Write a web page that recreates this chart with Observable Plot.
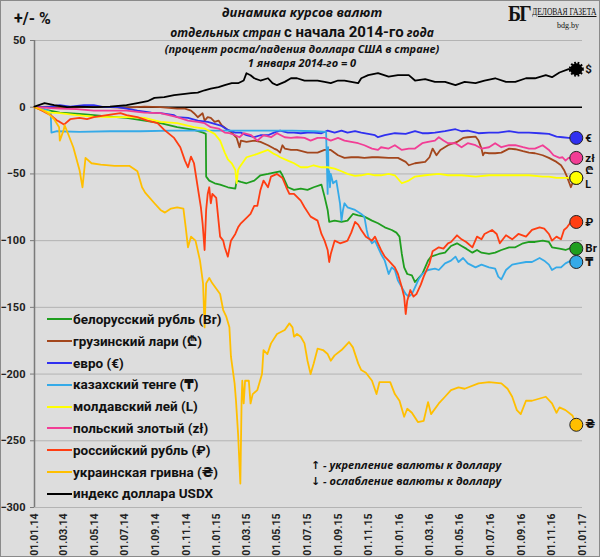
<!DOCTYPE html>
<html><head><meta charset="utf-8">
<script src="https://cdn.jsdelivr.net/npm/d3@7"></script>
<script src="https://cdn.jsdelivr.net/npm/@observablehq/plot@0.6"></script>
<style>
body{margin:0;background:#fff}
#wrap{position:relative;width:600px;height:557px;background:#dddddd;overflow:hidden;font-family:Roboto,"DejaVu Sans","Noto Sans",sans-serif;color:#111}
#wrap svg{position:absolute;left:0;top:0}
.ov{position:absolute;white-space:nowrap}
.tl{position:absolute;left:2px;width:600px;text-align:center;font-family:"Open Sans","DejaVu Sans",sans-serif;font-style:italic;font-weight:700;white-space:nowrap}
.lg{position:absolute;left:47px;font-weight:700;font-size:13.5px;white-space:nowrap;line-height:15px}
.lg span.sw{display:inline-block;width:25px;height:2px;vertical-align:middle;margin-right:1px;position:relative;top:-1px}
.note{position:absolute;left:311px;font-family:"Open Sans","DejaVu Sans",sans-serif;font-style:italic;font-weight:700;font-size:11px;white-space:nowrap;line-height:14px}
#border{position:absolute;left:0;top:0;width:600px;height:557px;box-sizing:border-box;border:1px solid #8a8a8a;pointer-events:none}
</style></head><body><div id="wrap"></div><script>
// x values: months elapsed since 01.01.2014; y values: % change
const belarus = [[0,0],[0.5,-1.5],[1.7,-4],[3,-5],[3.95,-6],[5,-7],[6.1,-8],[7.25,-10],[8.3,-12],[9.4,-15],[10.5,-17],[11.1,-19],[11.28,-20],[11.3,-52],[11.5,-55],[11.85,-57],[12.2,-58],[12.7,-60],[13.2,-61],[13.3,-55],[13.6,-56],[14.0,-57],[14.5,-55],[14.9,-51],[15.4,-50],[15.8,-49],[16.2,-48],[16.35,-51],[16.7,-60],[17.1,-62],[17.55,-61],[18.0,-62],[18.4,-60],[18.9,-58],[19.1,-67],[19.3,-77],[19.4,-86],[19.75,-85],[20.2,-86],[20.6,-85],[20.96,-80],[21.3,-81],[21.7,-82],[22.2,-85],[22.6,-87],[23.05,-90],[23.5,-92],[23.8,-94],[24.0,-97],[24.15,-110],[24.3,-120],[24.5,-125],[24.8,-126],[25.0,-131],[25.25,-128],[25.5,-125],[25.7,-120],[25.9,-115],[26.1,-112],[26.6,-110],[27.0,-109],[27.4,-104],[27.8,-102],[28.1,-104],[28.4,-106],[28.8,-109],[29.1,-107],[29.4,-109],[29.9,-110],[30.3,-109],[30.7,-107],[31.2,-105],[31.6,-105],[32.1,-102],[32.5,-101],[32.9,-101],[33.4,-100],[33.8,-101],[34.0,-105],[34.5,-106],[34.9,-107],[35.35,-105],[35.6,-106]];
const georgia = [[0,0],[1,0.5],[2,-0.5],[3,0],[4,0.5],[5,0],[6,-0.5],[7.25,0.5],[8.3,0],[9.4,-1],[9.9,-1],[10.3,-2.5],[10.5,-4.5],[10.75,-7.5],[11.07,-4.5],[11.2,-10],[11.4,-7.5],[11.6,-8],[11.85,-11],[12.1,-10],[12.3,-13.5],[12.7,-17],[12.95,-19],[13.3,-23],[13.5,-30],[13.6,-25],[14.0,-26],[14.5,-25],[14.9,-26],[15.4,-28.5],[15.8,-31],[16.0,-32],[16.2,-34],[16.35,-28.5],[16.5,-31],[16.9,-32],[17.3,-32],[18.0,-34],[18.65,-34],[19.1,-32],[19.5,-32],[19.97,-36],[20.4,-38],[20.85,-37.5],[21.3,-37.5],[21.7,-38],[22.2,-37.5],[22.6,-37.5],[23.3,-38],[23.9,-38],[24.4,-41],[24.6,-43.5],[25.0,-42],[25.7,-41],[26.0,-37.5],[26.2,-31],[26.45,-36],[26.7,-32],[27.2,-28.5],[27.8,-26],[28.2,-23],[28.5,-22.5],[29.0,-22],[29.2,-25],[29.4,-31],[29.5,-36],[29.6,-34],[29.9,-34.5],[30.3,-34.5],[30.7,-34],[31.2,-31],[31.6,-31.5],[32.1,-33],[32.5,-34],[32.9,-34.5],[33.4,-36],[33.8,-38],[34.3,-41],[34.6,-43.5],[34.8,-47],[35.0,-52],[35.25,-60],[35.35,-57],[35.6,-53]];
const euro = [[0,0],[0.86,0],[1.7,1.5],[2.4,0.5],[3.3,1.5],[3.95,1.5],[4.6,0],[5.5,0],[6.1,-1],[6.8,-2.5],[7.7,-4],[8.3,-4.5],[9.2,-6],[9.4,-7.5],[10.1,-8],[10.75,-10],[11.4,-11],[11.85,-12.5],[12.3,-14],[12.7,-17],[13.2,-19],[13.6,-19],[14.0,-21],[14.5,-22.5],[14.9,-21],[15.4,-21],[15.8,-19],[16.2,-17.5],[16.7,-19],[17.1,-19],[17.55,-19.5],[18.0,-19],[18.4,-19],[18.9,-19.5],[19.3,-17.5],[19.75,-19],[20.2,-17.5],[20.6,-19],[21.1,-18],[21.5,-19],[21.95,-20],[22.4,-21],[22.6,-22.5],[23.05,-21],[23.7,-19.5],[24.4,-20],[25.0,-18],[25.5,-19.5],[25.9,-19.5],[26.35,-19],[27.0,-18],[27.7,-16.5],[28.1,-18],[28.5,-17.5],[29.2,-19.5],[29.9,-19],[30.5,-19],[31.2,-18],[31.8,-19],[32.5,-19],[33.2,-19.5],[33.8,-20],[34.3,-22],[34.7,-22.5],[35.1,-23],[35.6,-23]];
const kazakh = [[0,0],[0.5,-1],[0.86,-2.5],[1.05,-4],[1.1,-19],[1.5,-18],[3,-18.5],[5,-18],[7,-18],[9,-17.5],[11,-17.5],[13,-17.5],[15,-17.5],[17,-17.5],[18.5,-18],[19.2,-18.5],[19.25,-42],[19.3,-65],[19.33,-30],[19.36,-55],[19.4,-48],[19.45,-60],[19.5,-50],[19.65,-57],[19.86,-55],[20.1,-72],[20.2,-85],[20.3,-77],[20.4,-72],[20.6,-75],[21.1,-77],[21.5,-80],[21.7,-82],[21.85,-92],[21.95,-97],[22.2,-102],[22.4,-100],[22.6,-105],[22.8,-110],[23.05,-115],[23.3,-125],[23.5,-120],[23.7,-122],[23.9,-130],[24.15,-135],[24.4,-140],[24.6,-142],[24.8,-140],[25.0,-135],[25.25,-129],[25.5,-125],[25.9,-122],[26.35,-121],[26.6,-122],[27.0,-117],[27.4,-115],[27.7,-112],[27.9,-116],[28.2,-113],[28.5,-117],[29.0,-120],[29.4,-118],[29.9,-120],[30.3,-121],[30.5,-127],[30.7,-129],[31.0,-122],[31.4,-118],[31.8,-117],[32.3,-116],[32.7,-116],[33.2,-113],[33.5,-115],[33.8,-118],[34.0,-122],[34.3,-120],[34.6,-120],[34.9,-117],[35.25,-115],[35.6,-116]];
const moldova = [[0,0],[0.4,-2],[1.05,-4],[1.7,-4.5],[2.8,-6],[3.95,-7],[5.0,-7.5],[6.1,-7.5],[7.25,-8],[8.3,-11],[9.4,-12],[10.5,-15],[11.2,-16],[11.85,-20],[12.2,-25],[12.5,-34],[12.7,-39],[12.95,-42],[13.2,-47],[13.3,-57],[13.4,-47],[13.5,-45],[13.7,-42],[14.0,-37.5],[14.7,-35],[15.4,-32],[15.8,-35],[16.0,-36],[16.2,-37.5],[16.7,-40],[17.1,-42],[17.55,-45],[18.0,-45],[18.4,-43.5],[18.9,-45],[19.3,-45],[19.75,-46],[20.2,-48],[20.6,-50],[21.1,-51.5],[21.5,-51],[21.95,-50],[22.4,-51],[22.8,-51],[23.3,-50],[23.7,-51],[24.15,-57],[24.6,-55],[25.0,-52],[25.7,-51],[26.6,-50],[27.2,-51],[28.1,-51],[29.0,-52],[29.9,-51],[30.7,-51],[31.6,-51],[32.5,-51],[33.4,-52],[33.8,-52],[34.3,-53],[34.7,-53],[35.1,-53],[35.6,-53]];
const poland = [[0,0],[1.7,-1],[2.8,-1.5],[3.95,-2.5],[5.0,-2.5],[6.1,-2.5],[7.25,-4],[8.3,-4.5],[9.4,-7.5],[10.1,-10],[10.75,-11],[11.2,-12],[11.6,-15],[12.1,-16],[12.5,-19],[12.8,-19.5],[13.2,-21],[13.5,-22.5],[13.8,-19.5],[14.3,-21],[14.7,-25],[15.1,-21],[15.6,-22.5],[16.0,-19.5],[16.5,-22.5],[16.9,-23],[17.3,-22.5],[17.8,-23],[18.2,-25],[18.65,-23],[19.1,-23],[19.5,-25],[19.97,-23],[20.4,-25],[20.85,-26],[21.3,-27],[21.7,-28.5],[22.2,-31],[22.6,-32],[22.8,-30],[23.3,-31],[23.7,-28.5],[24.15,-32],[24.6,-31],[25.0,-31],[25.5,-27],[25.9,-26],[26.35,-25],[26.6,-22.5],[26.9,-25],[27.2,-27],[27.7,-27],[28.1,-30],[28.5,-27],[29.0,-28.5],[29.4,-31],[29.9,-30],[30.3,-27],[30.7,-30],[31.2,-28.5],[31.6,-28.5],[32.1,-30],[32.5,-31],[32.9,-31],[33.4,-28.5],[33.8,-32],[34.1,-36],[34.5,-38],[34.7,-37.5],[34.9,-40],[35.1,-38],[35.6,-38]];
const russia = [[0,0],[0.4,-2],[1.05,-6],[1.5,-10],[1.7,-11],[2.0,-13],[2.4,-9],[3.0,-8],[3.5,-9],[3.95,-7.5],[4.8,-6],[5.7,-4.5],[6.1,-6],[6.8,-7.5],[7.45,-10],[8.1,-12],[8.55,-17],[9.2,-23],[9.6,-30],[9.9,-40],[10.1,-45],[10.3,-37],[10.5,-42],[10.75,-60],[10.96,-75],[11.07,-87],[11.2,-107],[11.3,-77],[11.4,-65],[11.5,-60],[11.6,-72],[11.7,-65],[11.95,-68],[12.2,-97],[12.4,-100],[12.5,-105],[12.7,-112],[12.9,-100],[13.2,-95],[13.4,-90],[13.6,-87],[13.8,-85],[14.0,-83],[14.26,-80],[14.5,-74],[14.7,-74],[14.9,-62],[15.1,-55],[15.4,-60],[15.6,-52],[16.0,-50],[16.35,-53],[16.6,-60],[16.8,-65],[17.1,-65],[17.55,-70],[17.8,-75],[18.2,-82],[18.65,-85],[18.9,-95],[19.1,-100],[19.3,-107],[19.4,-116],[19.5,-110],[19.75,-100],[20.1,-102],[20.4,-101],[20.6,-100],[20.85,-94],[21.1,-86],[21.3,-88],[21.5,-92],[21.8,-97],[22.2,-100],[22.4,-97],[22.6,-102],[22.8,-107],[23.05,-112],[23.3,-115],[23.7,-120],[23.9,-125],[24.15,-135],[24.3,-142],[24.4,-155],[24.5,-145],[24.7,-137],[24.9,-142],[25.1,-140],[25.4,-133],[25.6,-127],[25.8,-122],[26.0,-117],[26.2,-108],[26.6,-105],[26.9,-106],[27.2,-102],[27.4,-101],[27.8,-96],[28.1,-99],[28.4,-101],[28.8,-105],[29.1,-97],[29.4,-99],[29.6,-95],[30.1,-92],[30.4,-95],[30.6,-102],[31.0,-96],[31.4,-99],[31.8,-95],[32.3,-97],[32.7,-92],[33.2,-90],[33.5,-91],[33.8,-95],[34.0,-100],[34.3,-97],[34.6,-99],[34.8,-92],[35.0,-90],[35.25,-86],[35.6,-86]];
const ukraine = [[0,0],[0.5,-2],[0.86,-4.5],[1.3,-9],[1.65,-15],[1.7,-25],[1.98,-17],[2.04,-13.5],[2.3,-21],[2.6,-30],[3.0,-47],[3.2,-60],[3.4,-38],[3.8,-42],[4.4,-43],[5.3,-44],[6.3,-44],[6.8,-48],[7.1,-60],[7.3,-64],[7.9,-72],[8.3,-77],[8.6,-79],[9.0,-76],[9.4,-75],[9.8,-76],[9.95,-90],[10.1,-105],[10.3,-97],[10.6,-100],[10.9,-115],[11.1,-132],[11.2,-165],[11.3,-132],[11.5,-128],[11.7,-132],[12.2,-140],[12.4,-152],[12.6,-157],[12.8,-165],[12.9,-187],[13.15,-207],[13.25,-220],[13.4,-245],[13.56,-282],[13.65,-220],[13.7,-205],[13.8,-222],[13.9,-205],[14.15,-205],[14.26,-222],[14.4,-215],[14.7,-212],[15.0,-200],[15.1,-182],[15.36,-185],[15.6,-177],[16.0,-170],[16.5,-167],[16.8,-162],[17.0,-165],[17.1,-172],[17.3,-170],[17.55,-172],[17.8,-177],[18.0,-190],[18.2,-200],[18.4,-192],[18.65,-181],[19.0,-182],[19.3,-185],[19.5,-190],[19.75,-186],[20.2,-182],[20.7,-176],[20.96,-180],[21.3,-192],[21.5,-197],[21.8,-199],[22.2,-205],[22.5,-215],[22.7,-206],[23.4,-206],[23.7,-215],[24.0,-220],[24.3,-232],[24.5,-226],[24.8,-229],[25.2,-236],[25.6,-235],[25.9,-221],[26.1,-230],[26.6,-222],[27.0,-217],[27.4,-212],[27.9,-210],[28.3,-211],[29.2,-207],[29.9,-206],[30.7,-207],[31.1,-211],[31.4,-217],[31.7,-227],[31.95,-230],[32.3,-220],[32.7,-220],[33.6,-217],[34.0,-222],[34.3,-229],[34.5,-225],[34.9,-227],[35.35,-231],[35.6,-238]];
const usdx = [[0,0.5],[0.65,3],[1.3,1.5],[2.2,0],[3.0,0.5],[3.95,0],[5.0,0.5],[6.1,1.5],[6.8,3],[7.45,4.5],[7.9,7],[8.55,7.5],[9.2,9],[9.9,10],[10.3,10.5],[10.75,11],[11.2,12.7],[11.6,14],[12.1,15],[12.5,16.5],[12.95,18],[13.4,18],[13.8,20],[14.0,25.5],[14.26,24],[14.5,21.7],[14.9,20],[15.4,21.7],[15.7,18],[16.0,16.5],[16.5,19],[16.9,21.7],[17.3,21.7],[17.8,20],[18.2,20],[18.65,20],[19.1,19],[19.5,18],[19.97,20],[20.4,20],[20.85,19],[21.3,18],[21.5,21.7],[21.95,24],[22.6,25.5],[23.3,23],[23.9,24],[24.6,24],[25.0,20],[25.7,21],[26.35,19],[27.0,19],[27.7,16.5],[28.3,19],[29.0,18],[29.6,20],[30.3,21.7],[31.0,19],[31.6,19],[32.3,21.7],[32.9,21.7],[33.6,24],[34.0,22.5],[34.5,26],[35.1,28.5],[35.6,28.5]];

const names = ["белорусский рубль (Br)","грузинский лари (₾)","евро (€)","казахский тенге (₸)","молдавский лей (L)","польский злотый (zł)","российский рубль (₽)","украинская гривна (₴)","индекс доллара USDX"];
const symbols = ["Br","₾","€","₸","L","zł","₽","₴","$"];
const colors = ["#1f9e1f","#a3461c","#3030f0","#35aae8","#ffff00","#f23d95","#ff3d12","#ffbf00","#000000"];
const seriesData = [belarus, georgia, euro, kazakh, moldova, poland, russia, ukraine, usdx];
const yTicks = [50,0,-50,-100,-150,-200,-250,-300];
const titleLines = ["динамика курсов валют","отдельных стран","с начала 2014-го","года","(процент роста/падения доллара США в стране)","1 января 2014-го = 0"];
const noteLines = ["↑ - укрепление валюты к доллару","↓ - ослабление валюты к доллару"];

function monthToDate(m){
  const w = Math.floor(m);
  const a = Date.UTC(2014, w, 1), b = Date.UTC(2014, w + 1, 1);
  return new Date(a + (m - w) * (b - a));
}
const rows = seriesData.flatMap((s,i)=>s.map(([m,v])=>({date:monthToDate(m), value:v, series:names[i]})));
const ends = seriesData.map((s,i)=>{const [m,v]=s[s.length-1];return {date:monthToDate(m), value:v, series:names[i], sym:symbols[i]};});
const xTicks = d3.utcMonth.every(2).range(new Date(Date.UTC(2014,0,1)), new Date(Date.UTC(2017,0,2)));
const endsMid = ends.filter(d=>d.sym!=="₾" && d.sym!=="L");
const endsUp = ends.filter(d=>d.sym==="₾");
const endsDown = ends.filter(d=>d.sym==="L");
const textOpts = {x:"date", y:"value", text:"sym", dx:9, textAnchor:"start", fontWeight:"bold", fontSize:11.5, fill:"#111"};

const chart = Plot.plot({
  width:600, height:557,
  marginLeft:34, marginRight:18, marginTop:40, marginBottom:50,
  style:{background:"transparent", fontFamily:'Roboto,"DejaVu Sans","Noto Sans",sans-serif', color:"#222", overflow:"visible"},
  x:{type:"utc", domain:[new Date(Date.UTC(2014,0,1)), new Date(Date.UTC(2017,0,1))]},
  y:{domain:[-300,50]},
  color:{domain:names, range:colors},
  marks:[
    Plot.gridY(yTicks.filter(d=>d!==0), {stroke:"#b3b3b3", strokeOpacity:1}),
    Plot.ruleY([0], {stroke:"#000", strokeWidth:1.4}),
    Plot.ruleX([new Date(Date.UTC(2014,0,1))], {y1:-300, y2:50, stroke:"#7a7a7a", strokeWidth:1.5}),
    Plot.axisY({ticks:yTicks, tickSize:4, tickPadding:5, fontSize:11, fontWeight:"bold", label:null, stroke:"#7a7a7a"}),
    Plot.axisX({ticks:xTicks, tickFormat:d3.utcFormat("%d.%m.%y"), tickRotate:-90, tickSize:0, tickPadding:6, fontSize:10.5, fontWeight:"bold", label:null}),
    Plot.line(rows, {x:"date", y:"value", z:"series", stroke:"series", strokeWidth:1.8}),
    Plot.dot(ends.filter(d=>d.sym!=="$"), {x:"date", y:"value", fill:"series", stroke:"#222", strokeWidth:1, r:6.5}),
    Plot.dot(ends.filter(d=>d.sym==="$"), {x:"date", y:"value", fill:"#000", stroke:"#000", strokeWidth:3, strokeDasharray:"1.6,1.6", r:6}),
    Plot.text(endsMid, textOpts),
    Plot.text(endsUp, {...textOpts, fontSize:10.5, dy:-7}),
    Plot.text(endsDown, {...textOpts, fontSize:10.5, dy:7})
  ]
});
const wrap = document.getElementById("wrap");
wrap.appendChild(chart);

function add(cls, html, css){const d=document.createElement("div");d.className=cls;d.innerHTML=html;Object.assign(d.style,css);wrap.appendChild(d);return d;}
// title
add("tl", titleLines[0], {top:"4px", fontSize:"13px", lineHeight:"17px"});
add("tl", `${titleLines[1]} <span style="font-style:normal;font-size:15px;font-family:Roboto,'DejaVu Sans',sans-serif">${titleLines[2]}</span> ${titleLines[3]}`, {top:"23px", fontSize:"12px", lineHeight:"19px"});
add("tl", titleLines[4], {top:"42px", fontSize:"11px", lineHeight:"14px"});
add("tl", titleLines[5], {top:"56px", fontSize:"11px", lineHeight:"13px"});
// y label
add("ov", "+/- %", {left:"14px", top:"9px", fontWeight:"700", fontSize:"16px"});
// logo
add("ov", "БГ", {left:"508px", top:"1px", fontFamily:"'Liberation Serif','DejaVu Serif',serif", fontWeight:"700", fontSize:"23px", letterSpacing:"-2px", transform:"scaleX(0.85)", transformOrigin:"left"});
add("ov", "ДЕЛОВАЯ ГАЗЕТА", {left:"532px", top:"7px", fontFamily:"'Liberation Serif','DejaVu Serif',serif", fontSize:"9.5px", textDecoration:"underline", transform:"scaleX(0.8)", transformOrigin:"left"});
add("ov", "bdg.by", {left:"557px", top:"21px", fontFamily:"'Liberation Serif','DejaVu Serif',serif", fontSize:"8px"});
// legend
names.forEach((n,i)=>{
  add("lg", `<span class="sw" style="background:${colors[i]}"></span>${n}`, {top:(312 + i*21.8)+"px"});
});
// note
noteLines.forEach((t,i)=>add("note", t, {top:(458 + i*16)+"px"}));
add("ov", "", {}).id="border";
</script></body></html>
